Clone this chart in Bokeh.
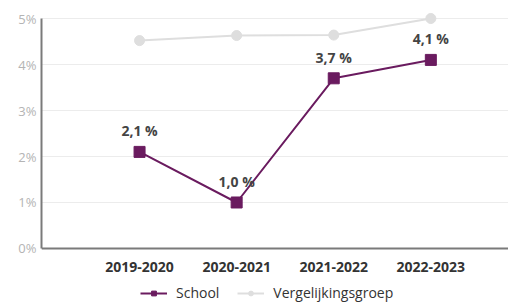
from bokeh.plotting import figure
from bokeh.models import ColumnDataSource, Legend, LegendItem, FixedTicker, Range1d
from bokeh.core.properties import value
from bokeh.embed import file_html
from bokeh.resources import INLINE

years = ["2019-2020", "2020-2021", "2021-2022", "2022-2023"]
school = [2.1, 1.0, 3.7, 4.1]
vergelijk = [4.52, 4.63, 4.64, 5.0]
school_labels = ["2,1 %", "1,0 %", "3,7 %", "4,1 %"]
y_ticks = [0, 1, 2, 3, 4, 5]

xs = list(range(len(years)))
src_s = ColumnDataSource(dict(x=xs, y=school, lab=school_labels))
src_v = ColumnDataSource(dict(x=xs, y=vergelijk))

PURPLE = "#6a1b5f"
GREY = "#dedede"

p = figure(width=508, height=303, output_backend="svg", toolbar_location=None,
           x_range=Range1d(-1.01, 3.80), y_range=Range1d(-1.196, 5.196),
           frame_width=467, frame_height=294,
           min_border_left=41, min_border_right=0, min_border_top=9, min_border_bottom=0)
p.outline_line_color = None
p.background_fill_color = "white"

# grid
p.xgrid.grid_line_color = None
p.ygrid.grid_line_color = "#ececec"
p.ygrid.grid_line_width = 1

# y axis
p.yaxis.ticker = FixedTicker(ticks=y_ticks)
p.yaxis.bounds = (0, 5)
p.yaxis.major_label_overrides = {t: f"{t}%" for t in y_ticks}
p.yaxis.axis_line_color = "#7a7a7a"
p.yaxis.axis_line_width = 2
p.yaxis.major_tick_line_color = None
p.yaxis.minor_tick_line_color = None
p.yaxis.major_tick_out = 0
p.yaxis.major_tick_in = 0
p.yaxis.minor_tick_out = 0
p.yaxis.major_label_text_color = "#b4b4b4"
p.yaxis.major_label_text_font = "Open Sans"
p.yaxis.major_label_text_font_size = "13px"
p.yaxis.major_label_standoff = 5

# x axis, pinned at y = 0 inside the frame
p.xaxis.fixed_location = 0
p.xaxis.ticker = FixedTicker(ticks=xs)
p.xaxis.major_label_overrides = {i: y for i, y in enumerate(years)}
p.xaxis.axis_line_color = "#7a7a7a"
p.xaxis.axis_line_width = 2
p.xaxis.major_tick_line_color = None
p.xaxis.minor_tick_line_color = None
p.xaxis.major_tick_out = 0
p.xaxis.major_tick_in = 0
p.xaxis.minor_tick_out = 0
p.xaxis.major_label_text_color = "#333333"
p.xaxis.major_label_text_font = "Open Sans"
p.xaxis.major_label_text_font_style = "bold"
p.xaxis.major_label_text_font_size = "14px"
p.xaxis.major_label_standoff = 14

# series
lv = p.line("x", "y", source=src_v, line_color=GREY, line_width=2)
cv = p.scatter("x", "y", source=src_v, marker="circle", size=10,
               fill_color=GREY, line_color=GREY)
ls = p.line("x", "y", source=src_s, line_color=PURPLE, line_width=2)
cs = p.scatter("x", "y", source=src_s, marker="square", size=11,
               fill_color=PURPLE, line_color=PURPLE)

p.text("x", "y", text="lab", source=src_s, y_offset=-21,
       text_align="center", text_baseline="middle",
       text_color="#444444", text_font=value("Open Sans"),
       text_font_style="bold", text_font_size="14px")

legend = Legend(items=[LegendItem(label="School", renderers=[ls, cs]),
                       LegendItem(label="Vergelijkingsgroep", renderers=[lv, cv])],
                orientation="horizontal", location=(99, 1),
                border_line_color=None, background_fill_alpha=0,
                label_text_font="Open Sans", label_text_font_size="14px",
                label_text_color="#333333", glyph_width=27, glyph_height=12,
                label_standoff=9, spacing=18, padding=0, margin=0,
                label_height=16)
p.add_layout(legend, "center")

open("out.html", "w").write(file_html(p, INLINE))
